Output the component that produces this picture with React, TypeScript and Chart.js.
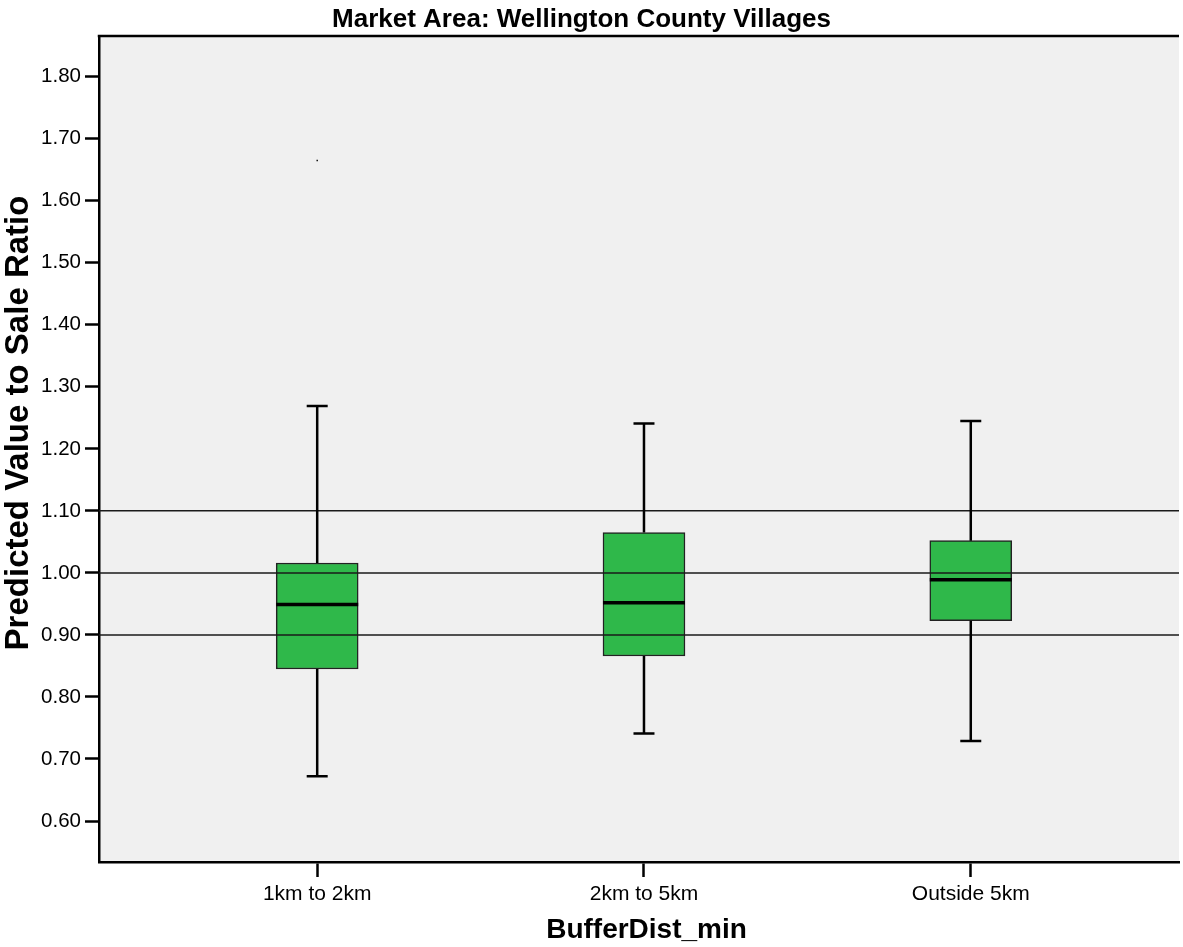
import React, { useEffect, useRef } from 'react';
import { Chart, registerables } from 'chart.js';

Chart.register(...registerables);

const chartTitle = 'Market Area: Wellington County Villages';
const xAxisTitle = 'BufferDist_min';
const yAxisTitle = 'Predicted Value to Sale Ratio';

const categories = ['1km to 2km', '2km to 5km', 'Outside 5km'];
const categoryPositions = [1, 2, 3];
const whiskerLow = [0.672, 0.741, 0.729];
const q1 = [0.845, 0.866, 0.923];
const median = [0.949, 0.952, 0.989];
const q3 = [1.016, 1.065, 1.052];
const whiskerHigh = [1.269, 1.241, 1.245];
const outlierPositions = [1];
const outlierValues = [1.665];
const referenceLines = [0.9, 1.0, 1.1];
const yTickValues = [0.6, 0.7, 0.8, 0.9, 1.0, 1.1, 1.2, 1.3, 1.4, 1.5, 1.6, 1.7, 1.8];

const FONT = '"Liberation Sans", Arial, sans-serif';

const boxExtras = {
  id: 'boxExtras',
  beforeDraw(chart: any) {
    const { ctx, chartArea: a } = chart;
    ctx.save();
    ctx.fillStyle = '#F0F0F0';
    ctx.fillRect(a.left, a.top, a.right - a.left, a.bottom - a.top);
    ctx.restore();
  },
  afterDatasetsDraw(chart: any) {
    const { ctx, chartArea: a, scales } = chart;
    const x = scales.x;
    const y = scales.y;
    ctx.save();
    // reference lines
    ctx.strokeStyle = '#1a1a1a';
    ctx.lineWidth = 1.5;
    referenceLines.forEach((v) => {
      const py = y.getPixelForValue(v);
      ctx.beginPath();
      ctx.moveTo(a.left, py);
      ctx.lineTo(a.right, py);
      ctx.stroke();
    });
    // whiskers and medians
    const boxHalf = 41;
    const capHalf = 10.5;
    categoryPositions.forEach((c, i) => {
      const px = x.getPixelForValue(c);
      const pLow = y.getPixelForValue(whiskerLow[i]);
      const pQ1 = y.getPixelForValue(q1[i]);
      const pQ3 = y.getPixelForValue(q3[i]);
      const pHigh = y.getPixelForValue(whiskerHigh[i]);
      const pMed = y.getPixelForValue(median[i]);
      ctx.strokeStyle = '#000';
      ctx.lineWidth = 2.5;
      ctx.beginPath();
      ctx.moveTo(px, pQ3);
      ctx.lineTo(px, pHigh);
      ctx.moveTo(px, pQ1);
      ctx.lineTo(px, pLow);
      ctx.moveTo(px - capHalf, pHigh);
      ctx.lineTo(px + capHalf, pHigh);
      ctx.moveTo(px - capHalf, pLow);
      ctx.lineTo(px + capHalf, pLow);
      ctx.stroke();
      ctx.lineWidth = 3.5;
      ctx.beginPath();
      ctx.moveTo(px - boxHalf, pMed);
      ctx.lineTo(px + boxHalf, pMed);
      ctx.stroke();
    });
    ctx.restore();
  },
  afterDraw(chart: any) {
    const { ctx, chartArea: a } = chart;
    ctx.save();
    // top frame line
    ctx.strokeStyle = '#000';
    ctx.lineWidth = 2.5;
    ctx.beginPath();
    ctx.moveTo(a.left - 1.25, a.top);
    ctx.lineTo(a.right, a.top);
    ctx.stroke();
    ctx.fillStyle = '#000';
    // chart title
    ctx.font = `bold 26px ${FONT}`;
    ctx.textAlign = 'center';
    ctx.textBaseline = 'alphabetic';
    ctx.fillText(chartTitle, 581.5, 26.5);
    // x axis title
    ctx.font = `bold 28px ${FONT}`;
    ctx.fillText(xAxisTitle, 646.5, 938);
    // y axis title
    ctx.translate(28, 423);
    ctx.rotate(-Math.PI / 2);
    ctx.font = `bold 33px ${FONT}`;
    ctx.fillText(yAxisTitle, 0, 0);
    ctx.restore();
  },
};

export default function App() {
  const canvasRef = useRef<HTMLCanvasElement | null>(null);

  useEffect(() => {
    const canvas = canvasRef.current;
    if (!canvas) return;
    const chart = new Chart(canvas, {
      type: 'bar',
      data: {
        datasets: [
          {
            type: 'bar',
            label: 'IQR',
            data: categoryPositions.map((c, i) => ({ x: c, y: [q1[i], q3[i]] })) as any,
            backgroundColor: '#2FB84A',
            borderColor: '#222222',
            borderWidth: 1.5,
            borderSkipped: false,
            barThickness: 82,
          } as any,
          {
            type: 'scatter',
            label: 'Outliers',
            data: outlierPositions.map((c, i) => ({ x: c, y: outlierValues[i] })),
            pointStyle: 'rect',
            pointRadius: 1,
            backgroundColor: '#000',
            borderWidth: 0,
          } as any,
        ],
      },
      options: {
        responsive: false,
        animation: false,
        devicePixelRatio: 1,
        layout: { padding: { top: 36, left: 0, right: 0, bottom: 0 } },
        plugins: {
          legend: { display: false },
          title: { display: false },
          tooltip: { enabled: false },
        },
        scales: {
          x: {
            type: 'linear',
            min: 0.3323,
            max: 3.6372,
            offset: false,
            afterBuildTicks: (scale: any) => {
              scale.ticks = categoryPositions.map((v) => ({ value: v }));
            },
            afterFit: (scale: any) => {
              scale.height = 85;
            },
            ticks: {
              autoSkip: false,
              maxRotation: 0,
              color: '#000',
              padding: 5,
              font: { family: FONT, size: 21 },
              callback: (v: any) => {
                const idx = categoryPositions.indexOf(Number(v));
                return idx >= 0 ? categories[idx] : '';
              },
            },
            grid: {
              display: true,
              offset: false,
              drawOnChartArea: false,
              drawTicks: true,
              tickLength: 15,
              tickWidth: 2.5,
              tickColor: '#000',
            },
            border: { display: true, color: '#000', width: 2.5 },
          },
          y: {
            type: 'linear',
            min: 0.5339,
            max: 1.8656,
            afterBuildTicks: (scale: any) => {
              scale.ticks = yTickValues.map((v) => ({ value: v }));
            },
            afterFit: (scale: any) => {
              scale.width = 99;
            },
            ticks: {
              color: '#000',
              padding: 4,
              font: { family: FONT, size: 20.5 },
              callback: (v: any) => Number(v).toFixed(2),
            },
            grid: {
              display: true,
              offset: false,
              drawOnChartArea: false,
              drawTicks: true,
              tickLength: 14,
              tickWidth: 2.5,
              tickColor: '#000',
            },
            border: { display: true, color: '#000', width: 2.5 },
          },
        },
      },
      plugins: [boxExtras],
    } as any);
    return () => chart.destroy();
  }, []);

  return (
    <div style={{ position: 'absolute', left: 0, top: 0, width: 1183, height: 947, background: '#fff' }}>
      <canvas ref={canvasRef} width={1183} height={947} style={{ display: 'block', width: 1183, height: 947 }} />
    </div>
  );
}
